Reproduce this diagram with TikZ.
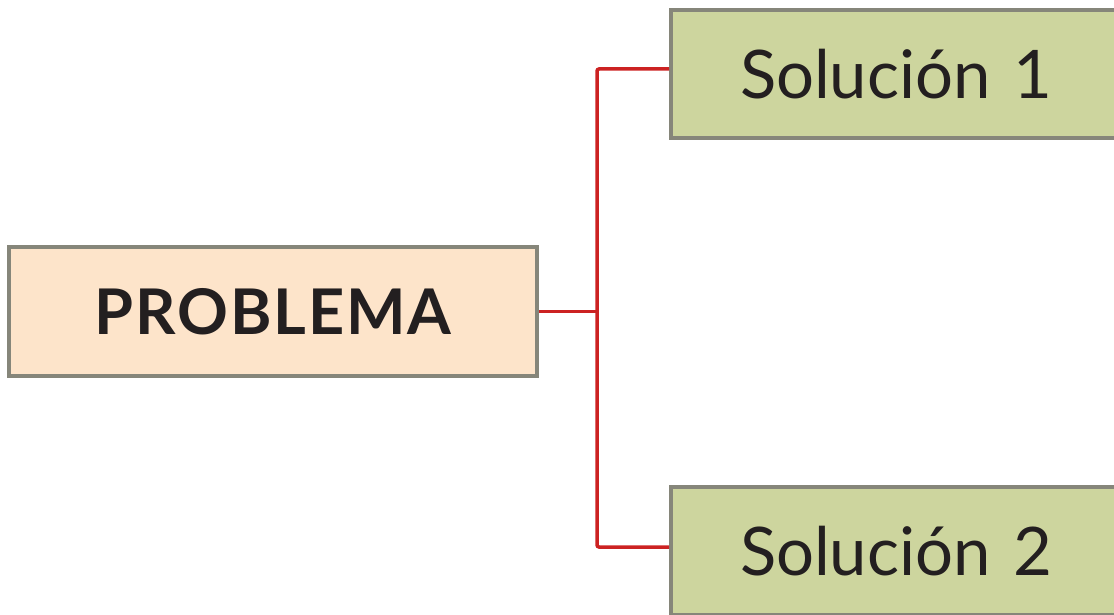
\documentclass[tikz,border=0pt]{standalone}
\usepackage{fontspec}
\setmainfont{Lato}
\usetikzlibrary{positioning}
\definecolor{boxline}{HTML}{86867A}
\definecolor{probfill}{HTML}{FDE4CA}
\definecolor{solfill}{HTML}{CDD59E}
\definecolor{linkred}{HTML}{CC2222}
\definecolor{textdark}{HTML}{231F20}

\begin{document}
\begin{tikzpicture}[x=1pt, y=1pt,
  box/.style={draw=boxline, line width=4pt, minimum height=128pt,
    inner sep=0pt, text=textdark},
  solbox/.style={box, fill=solfill, anchor=west, text width=440pt,
    align=left, inner xsep=69pt, font=\fontsize{67}{75}\selectfont},
  link/.style={draw=linkred, line width=3.5pt, rounded corners=2pt}]
  \useasboundingbox (0,0) rectangle (1114,614);
  \clip (0,0) rectangle (1114,614);

  % main box and the two solutions
  \node[box, fill=probfill, minimum width=528pt,
    font=\fontsize{63}{70}\selectfont\bfseries\addfontfeature{LetterSpace=3}] (problema) at (273,302.5) {PROBLEMA};
  \node[solbox] (sol1) at (669,540) {Solución 1};
  \node[solbox] (sol2) at (669,63) {Solución 2};

  % connectors
  \coordinate (fork) at (597,302.5);
  \draw[link] (problema.east) -- (fork);
  \draw[link] ([yshift=5pt]sol1.west) -| (fork) |- ([yshift=4pt]sol2.west);
\end{tikzpicture}
\end{document}
